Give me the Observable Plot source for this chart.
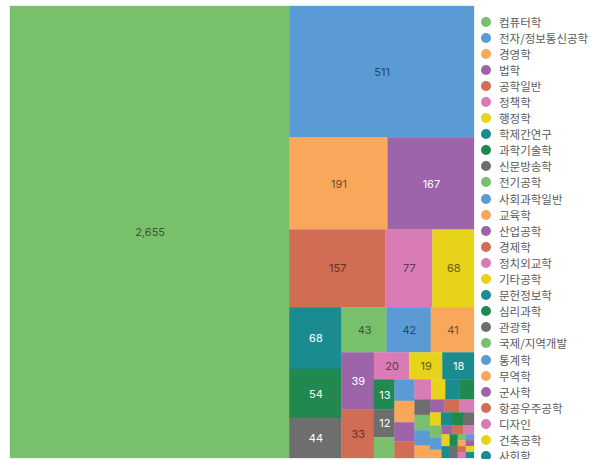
<!DOCTYPE html>
<html>
<head>
<meta charset="utf-8">
<script src="https://cdn.jsdelivr.net/npm/d3@7"></script>
<script src="https://cdn.jsdelivr.net/npm/@observablehq/plot@0.6"></script>
<style>
  html, body { margin: 0; padding: 0; background: #fff; overflow: hidden; }
  #wrap { position: relative; width: 592px; height: 459px; overflow: hidden; }
  #chart { position: absolute; left: 0; top: 0; }
  #legend { position: absolute; left: 478px; top: 13.5px; font-family: "Noto Sans CJK KR", "Noto Sans", sans-serif; font-size: 11.5px; color: #5a5a5a; }
  .item { display: flex; align-items: center; height: 16.1px; white-space: nowrap; }
  .sw { width: 10px; height: 10px; border-radius: 50%; margin-left: 3px; margin-right: 8px; flex: none; }
</style>
</head>
<body>
<div id="wrap">
  <div id="chart"></div>
  <div id="legend"></div>
</div>
<script>
// Categories (descending by count)
const names = [
  "컴퓨터학", "전자/정보통신공학", "경영학", "법학", "공학일반", "정책학", "행정학", "학제간연구",
  "과학기술학", "신문방송학", "전기공학", "사회과학일반", "교육학", "산업공학", "경제학", "정치외교학",
  "기타공학", "문헌정보학", "심리과학", "관광학", "국제/지역개발", "통계학", "무역학", "군사학",
  "항공우주공학", "디자인", "건축공학", "사회학",
  "기계공학", "화학공학", "토목공학", "수학", "물리학", "화학", "생명과학", "의학",
  "간호학", "언어학", "철학", "역사학", "지리학", "환경공학", "재료공학", "농학",
  "체육학", "음악학", "미술학", "교육공학", "인류학", "종교학", "약학", "보건학",
  "해양학", "천문학", "지구과학", "식품공학", "조경학", "의류학"
];
// Counts
const values = [
  2655, 511, 191, 167, 157, 77, 68, 68,
  54, 44, 43, 42, 41, 39, 33, 20,
  19, 18, 13, 12, 9, 9, 9, 8,
  7, 7, 6, 6,
  6, 5, 5, 5, 4, 4, 4, 4,
  3, 3, 3, 3, 3, 3, 2, 2,
  2, 2, 2, 2, 2, 2, 1, 1,
  1, 1, 1, 1, 1, 1
];
// Palette (cycles every 10 categories)
const palette = [
  "#79c06c", "#5b9bd5", "#f9a75b", "#9d64aa", "#d26d55",
  "#d97bb5", "#e7d31a", "#1a8b8f", "#21894f", "#6e6e6e"
];
// Number of legend entries visible in the window
const legendCount = 28;

const W = 464, H = 452, LEFT = 10, TOP = 6;

const items = names.map((name, i) => ({ name, value: values[i], color: palette[i % palette.length] }));
const root = d3.hierarchy({ children: items }).sum(d => d.value || 0);
d3.treemap().tile(d3.treemapSquarify.ratio(1)).size([W, H]).round(false)(root);

function textColor(c) {
  const col = d3.rgb(c);
  const lum = (0.299 * col.r + 0.587 * col.g + 0.114 * col.b) / 255;
  return lum > 0.52 ? d3.color(c).darker(2.2).formatHex() : "#ffffff";
}

const cells = root.leaves().map(l => ({
  name: l.data.name, value: l.data.value, color: l.data.color, tc: textColor(l.data.color),
  x0: l.x0, x1: l.x1, y0: l.y0, y1: l.y1
}));

const chart = Plot.plot({
  width: 476, height: 459,
  marginLeft: LEFT, marginTop: TOP, marginRight: 2, marginBottom: 1,
  x: { domain: [0, W], range: [LEFT, LEFT + W], axis: null },
  y: { domain: [0, H], range: [TOP, TOP + H], axis: null },
  color: { type: "identity" },
  style: { fontFamily: "Inter, 'Noto Sans', sans-serif", background: "#fff" },
  marks: [
    Plot.rect(cells, { x1: "x0", x2: "x1", y1: "y0", y2: "y1", fill: "color", stroke: "color", strokeWidth: 0.3 }),
    Plot.text(cells.filter(d => d.value >= 12), {
      x: d => (d.x0 + d.x1) / 2, y: d => (d.y0 + d.y1) / 2,
      text: d => d3.format(",")(d.value), fill: "tc", fontSize: 11
    })
  ]
});
document.getElementById("chart").appendChild(chart);

const legend = document.getElementById("legend");
items.slice(0, legendCount).forEach(d => {
  const row = document.createElement("div");
  row.className = "item";
  const sw = document.createElement("span");
  sw.className = "sw";
  sw.style.background = d.color;
  const t = document.createElement("span");
  t.textContent = d.name;
  row.appendChild(sw); row.appendChild(t);
  legend.appendChild(row);
});
</script>
</body>
</html>
